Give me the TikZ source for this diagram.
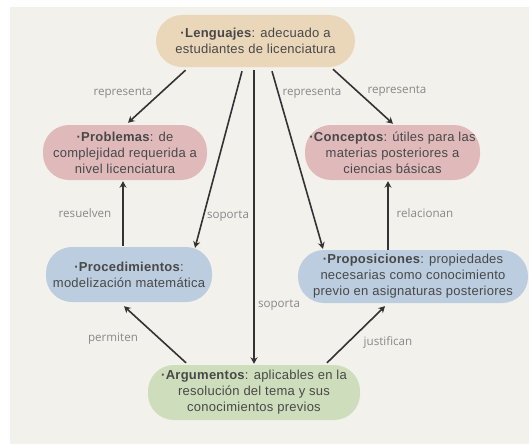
\documentclass[tikz,border=0pt]{standalone}
\usepackage{fontspec}
\setmainfont{Liberation Sans}[LetterSpace=2]
\newfontfamily\lblfont{Open Sans}
\usetikzlibrary{arrows.meta,calc}
\definecolor{paper}{HTML}{F3F1EC}
\definecolor{sand}{HTML}{EAD7BA}
\definecolor{rose}{HTML}{E0BABB}
\definecolor{sky}{HTML}{BCCDE0}
\definecolor{sage}{HTML}{CEDDBB}
\definecolor{ink}{HTML}{484848}
\definecolor{wire}{HTML}{333333}
\definecolor{labelgray}{HTML}{888888}
\begin{document}
\begin{tikzpicture}[x=1pt,y=-1pt,
  concept/.style={rounded corners=26pt, minimum height=55pt, align=center,
    inner sep=0pt, text=ink, font=\fontsize{13}{16}\selectfont},
  link/.style={draw=wire, line width=1.6pt, -{Stealth[length=6.5pt,width=7pt]}},
  lbl/.style={font=\lblfont\fontsize{11.6}{13}\selectfont, text=labelgray, inner sep=0pt}]
\useasboundingbox (0,0) rectangle (529,444);
\fill[white] (0,0) rectangle (529,444);
\fill[paper] (10,7) rectangle (529,444);

% concept boxes
\node[concept, fill=sand, minimum width=199pt, minimum height=52pt] (len) at (255.5,41)
  {\textbf{·Lenguajes}: adecuado a\\estudiantes de licenciatura};
\node[concept, fill=rose, minimum width=164pt] (prob) at (125,152.5)
  {\textbf{·Problemas}: de\\complejidad requerida a\\nivel licenciatura};
\node[concept, fill=rose, minimum width=175pt] (conc) at (392.5,152.5)
  {\textbf{·Conceptos}: útiles para las\\materias posteriores a\\ciencias básicas};
\node[concept, fill=sky, minimum width=166pt] (proc) at (129,274.5)
  {\textbf{·Procedimientos}:\\modelización matemática};
\node[concept, fill=sky, minimum width=230pt, minimum height=53pt] (prop) at (413,276.5)
  {\textbf{·Proposiciones}: propiedades\\necesarias como conocimiento\\previo en asignaturas posteriores};
\node[concept, fill=sage, minimum width=212pt] (arg) at (254,392.5)
  {\textbf{·Argumentos}: aplicables en la\\resolución del tema y sus\\conocimientos previos};

% connectors
\draw[link] ($(len.south)+(-70,3)$) -- ($(prob.north)+(3,-2)$);
\draw[link] ($(len.south)+(-13.5,4)$) -- ($(proc.north)+(66,1)$);
\draw[link] ($(len.south)+(-1.5,3)$) -- ($(arg.north)+(0,-1)$);
\draw[link] ($(len.south)+(16.5,4)$) -- ($(prop.north)+(-90,-1)$);
\draw[link] ($(len.south)+(77.5,2)$) -- ($(conc.north)+(0.5,-1)$);
\draw[link] ($(proc.north)+(-6,-1)$) -- ($(prob.south)+(-2,1)$);
\draw[link] ($(prop.north)+(-25,0)$) -- ($(conc.south)+(-4.5,1)$);
\draw[link] ($(arg.north)+(-68,-2)$) -- ($(proc.south)+(-5,4)$);
\draw[link] ($(arg.north)+(73,-2)$) -- ($(prop.south)+(-28,3)$);

% connector labels
\node[lbl] (t1) at (123,93) {representa};
\node[lbl] (t2) at (312,93) {representa};
\node[lbl] (t3) at (397,91) {representa};
\node[lbl] (t4) at (228,216) {soporta};
\node[lbl] (t5) at (279,305) {soporta};
\node[lbl] (t6) at (85,213) {resuelven};
\node[lbl] (t7) at (425,213) {relacionan};
\node[lbl] (t8) at (113,339) {permiten};
\node[lbl] (t9) at (388,342) {justifican};
\end{tikzpicture}
\end{document}
